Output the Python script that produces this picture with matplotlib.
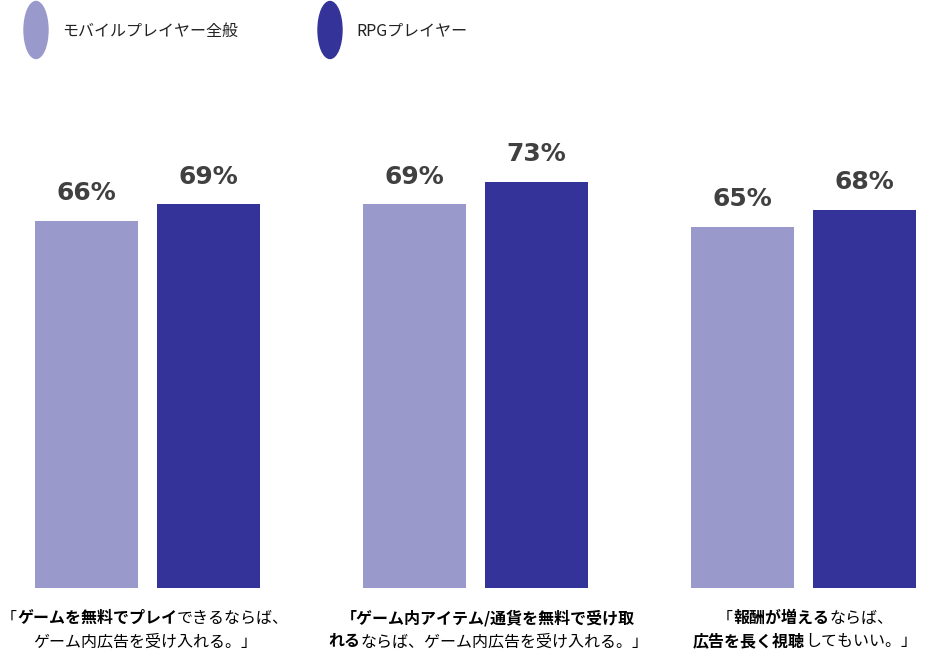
import matplotlib
matplotlib.use("Agg")
import matplotlib.pyplot as plt
from matplotlib.patches import Ellipse
from matplotlib.offsetbox import TextArea, HPacker, VPacker, AnnotationBbox
import numpy as np

plt.rcParams['font.family'] = ['Noto Sans CJK JP', 'DejaVu Sans']

series_names = ["モバイルプレイヤー全般", "RPGプレイヤー"]
general = [66, 69, 65]
rpg = [69, 73, 68]
colors = ["#9999CC", "#333399"]
# category labels: lines of (text, bold) segments
cat_labels = [
    [[("「", False), ("ゲームを無料でプレイ", True), ("できるならば、", False)],
     [("ゲーム内広告を受け入れる。」", False)]],
    [[("「ゲーム内アイテム/通貨を無料で受け取", True)],
     [("れる", True), ("ならば、ゲーム内広告を受け入れる。」", False)]],
    [[("「", False), ("報酬が増える", True), ("ならば、", False)],
     [("広告を長く視聴", True), ("してもいい。」", False)]],
]

W, H = 930, 662
fig = plt.figure(figsize=(W / 100, H / 100), dpi=100)
ax = fig.add_axes([0, (H - 588) / H, 1, (588 - 32) / H])
x = np.arange(len(general))
bw = 103 / 328
off = 61.25 / 328
ax.bar(x - off, general, bw, color=colors[0])
ax.bar(x + off, rpg, bw, color=colors[1])
ax.set_xlim(-147.5 / 328, (W - 147.5) / 328)
ax.set_ylim(0, 100)
ax.axis("off")

for xs, vals in ((x - off, general), (x + off, rpg)):
    for xi, v in zip(xs, vals):
        ax.annotate(f"{v}%", (xi, v), xytext=(0, 20), textcoords="offset points",
                    ha="center", va="center", fontsize=18, fontweight="bold",
                    color="#404040", family="DejaVu Sans")

# legend
for i, (name, c) in enumerate(zip(series_names, colors)):
    cx = 36 + i * 294
    e = Ellipse((cx, H - 30), 24, 57, color=c, transform=None)
    fig.patches.append(e)
    fig.text((cx + 26) / W, (H - 31) / H, name, fontsize=11.5, va="center",
             ha="left", color="#222222")

# category labels
centers = [145, 488, 805]
for ci, lines in enumerate(cat_labels):
    rows = []
    for line in lines:
        parts = [TextArea(t, textprops=dict(fontsize=11.5, fontweight="bold" if b else "normal",
                                             color="#000000"))
                 for t, b in line]
        rows.append(HPacker(children=parts, align="baseline", pad=0, sep=0))
    box = VPacker(children=rows, align="center", pad=0, sep=5)
    ab = AnnotationBbox(box, (centers[ci], H - 630), xycoords="figure pixels",
                        box_alignment=(0.5, 0.5), frameon=False)
    fig.add_artist(ab)

fig.savefig("out.png", dpi=100)
